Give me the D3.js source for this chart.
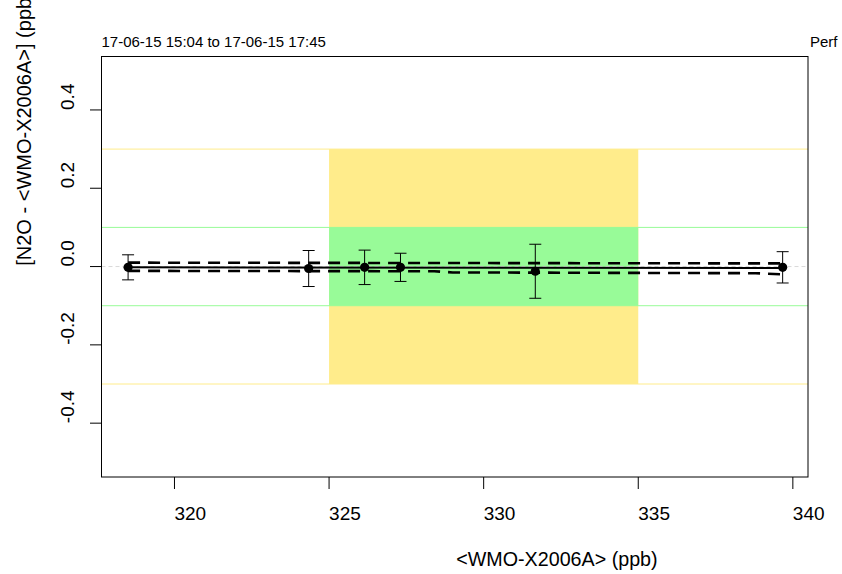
<!DOCTYPE html>
<html>
<head>
<meta charset="utf-8">
<script src="https://cdn.jsdelivr.net/npm/d3@7"></script>
<style>
html,body{margin:0;padding:0;background:#fff;}
svg{display:block;font-family:"Liberation Sans",Arial,sans-serif;}
</style>
</head>
<body>
<svg id="chart" width="842" height="574"></svg>
<script>
// ---- data ----
const xVals = [318.50, 324.34, 326.15, 327.31, 331.67, 339.67];
const yVals = [-0.002, -0.005, -0.002, -0.002, -0.012, -0.002];
const errVals = [0.032, 0.046, 0.044, 0.036, 0.069, 0.040];
const fitX = [318.50, 339.67];
const fitY = [-0.002, -0.004];
const upperX = [318.50, 329.0, 339.67];
const upperY = [0.010, 0.009, 0.008];
const lowerX = [318.50, 328.4, 329.0, 338.8, 339.67];
const lowerY = [-0.011, -0.012, -0.015, -0.017, -0.020];
const xTicks = [320, 325, 330, 335, 340];
const yTicks = [0.4, 0.2, 0.0, -0.2, -0.4];
const yTickLabels = ["0.4", "0.2", "0.0", "-0.2", "-0.4"];
const outerBand = [325, 335, -0.3, 0.3];
const innerBand = [325, 335, -0.1, 0.1];
const titleText = "17-06-15 15:04 to 17-06-15 17:45";
const rightText = "Perf";
const xLabel = "<WMO-X2006A> (ppb)";
const yLabel = "[N2O - <WMO-X2006A>] (ppb)";

// ---- layout ----
const L = 101.5, R = 808, T = 56.5, B = 477;
const x = d3.scaleLinear().domain([317.64, 340.49]).range([L, R]);
const y = d3.scaleLinear().domain([-0.5375, 0.5365]).range([B, T]);

const svg = d3.select("#chart");
const yellow = "#FFEC8B", green = "#98FB98";

// bands
svg.append("rect")
  .attr("x", x(outerBand[0])).attr("width", x(outerBand[1]) - x(outerBand[0]))
  .attr("y", y(outerBand[3])).attr("height", y(outerBand[2]) - y(outerBand[3]))
  .attr("fill", yellow);
svg.append("rect")
  .attr("x", x(innerBand[0])).attr("width", x(innerBand[1]) - x(innerBand[0]))
  .attr("y", y(innerBand[3])).attr("height", y(innerBand[2]) - y(innerBand[3]))
  .attr("fill", green);
[outerBand[2], outerBand[3]].forEach(v => {
  svg.append("line").attr("x1", L).attr("x2", R).attr("y1", y(v)).attr("y2", y(v))
    .attr("stroke", yellow).attr("stroke-width", 1);
});
[innerBand[2], innerBand[3]].forEach(v => {
  svg.append("line").attr("x1", L).attr("x2", R).attr("y1", y(v)).attr("y2", y(v))
    .attr("stroke", green).attr("stroke-width", 1);
});
// zero reference
svg.append("line").attr("x1", L).attr("x2", R).attr("y1", y(0)).attr("y2", y(0))
  .attr("stroke", "#d9d9d9").attr("stroke-width", 1).attr("stroke-dasharray", "4,3");

// box
svg.append("rect").attr("x", L).attr("y", T).attr("width", R - L).attr("height", B - T)
  .attr("fill", "none").attr("stroke", "#000").attr("stroke-width", 1);

// axes ticks
const xAxis = svg.append("g");
xTicks.forEach(t => {
  xAxis.append("line").attr("x1", x(t)).attr("x2", x(t)).attr("y1", B).attr("y2", B + 12)
    .attr("stroke", "#000").attr("stroke-width", 1);
  xAxis.append("text").attr("x", x(t)).attr("y", 520).attr("font-size", 19)
    .attr("text-anchor", "start").attr("fill", "#000").text(String(t));
});
const yAxis = svg.append("g");
yTicks.forEach((t, i) => {
  yAxis.append("line").attr("x1", L - 11.5).attr("x2", L).attr("y1", y(t)).attr("y2", y(t))
    .attr("stroke", "#000").attr("stroke-width", 1);
  yAxis.append("text").attr("transform", `translate(74,${y(t)}) rotate(-90)`)
    .attr("font-size", 19).attr("text-anchor", "start").attr("fill", "#000")
    .text(yTickLabels[i]);
});

// labels
svg.append("text").attr("x", 101.5).attr("y", 46.5).attr("font-size", 15).text(titleText);
svg.append("text").attr("x", 810).attr("y", 46.5).attr("font-size", 15).text(rightText);
svg.append("text").attr("x", (L + R) / 2 + 1.5).attr("y", 566).attr("font-size", 19.7)
  .attr("text-anchor", "start").text(xLabel);
svg.append("text").attr("transform", `translate(31,${(T + B) / 2 - 1}) rotate(-90)`)
  .attr("font-size", 20).attr("text-anchor", "start").text(yLabel);

// confidence lines
const line = d3.line().x(d => x(d[0])).y(d => y(d[1]));
svg.append("path").datum(upperX.map((v, i) => [v, upperY[i]])).attr("d", line)
  .attr("fill", "none").attr("stroke", "#000").attr("stroke-width", 2.6).attr("stroke-dasharray", "12,8");
svg.append("path").datum(lowerX.map((v, i) => [v, lowerY[i]])).attr("d", line)
  .attr("fill", "none").attr("stroke", "#000").attr("stroke-width", 2.6).attr("stroke-dasharray", "12,8");
// fit
svg.append("path").datum(fitX.map((v, i) => [v, fitY[i]])).attr("d", line)
  .attr("fill", "none").attr("stroke", "#000").attr("stroke-width", 2);

// error bars
const pts = xVals.map((v, i) => ({x: v, y: yVals[i], e: errVals[i]}));
const eb = svg.append("g").attr("stroke", "#000").attr("stroke-width", 1);
pts.forEach(p => {
  eb.append("line").attr("x1", x(p.x)).attr("x2", x(p.x)).attr("y1", y(p.y - p.e)).attr("y2", y(p.y + p.e));
  eb.append("line").attr("x1", x(p.x) - 6).attr("x2", x(p.x) + 6).attr("y1", y(p.y - p.e)).attr("y2", y(p.y - p.e));
  eb.append("line").attr("x1", x(p.x) - 6).attr("x2", x(p.x) + 6).attr("y1", y(p.y + p.e)).attr("y2", y(p.y + p.e));
});
svg.append("g").selectAll("circle").data(pts).join("circle")
  .attr("cx", d => x(d.x)).attr("cy", d => y(d.y)).attr("r", 4.6).attr("fill", "#000");
</script>
</body>
</html>
